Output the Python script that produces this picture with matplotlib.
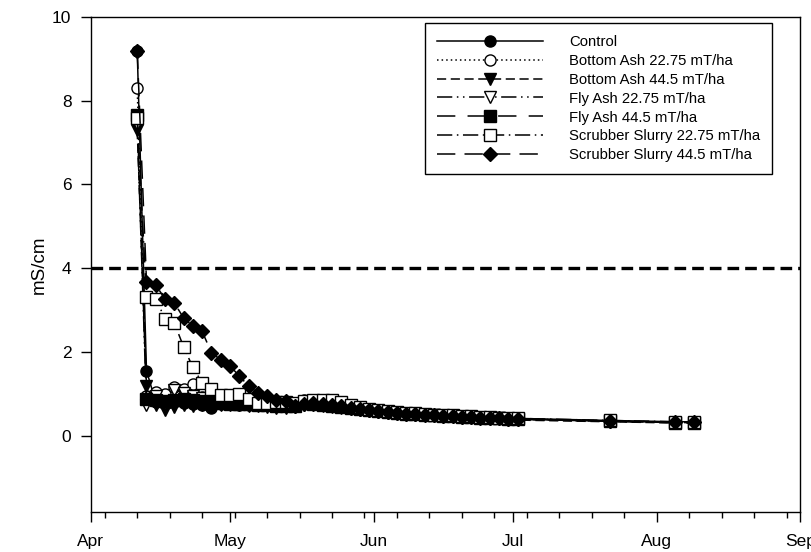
import matplotlib
matplotlib.use("Agg")
import matplotlib.pyplot as plt
import matplotlib.dates as mdates
import numpy as np
import datetime as dt

plt.rcParams['font.family'] = ['Liberation Sans', 'DejaVu Sans']

# sampling dates (year is arbitrary)
dates = ["2010-04-11", "2010-04-13", "2010-04-15", "2010-04-17", "2010-04-19",
         "2010-04-21", "2010-04-23", "2010-04-25", "2010-04-27", "2010-04-29",
         "2010-05-01", "2010-05-03", "2010-05-05", "2010-05-07", "2010-05-09",
         "2010-05-11", "2010-05-13", "2010-05-15", "2010-05-17", "2010-05-19",
         "2010-05-21", "2010-05-23", "2010-05-25", "2010-05-27", "2010-05-29",
         "2010-05-31", "2010-06-02", "2010-06-04", "2010-06-06", "2010-06-08",
         "2010-06-10", "2010-06-12", "2010-06-14", "2010-06-16", "2010-06-18",
         "2010-06-20", "2010-06-22", "2010-06-24", "2010-06-26", "2010-06-28",
         "2010-06-30", "2010-07-02", "2010-07-22", "2010-08-05", "2010-08-09"]

control = [9.2, 1.55, 0.80, 0.78, 0.80, 0.78, 0.75, 0.74, 0.66, 0.75,
           0.76, 0.74, 0.72, 0.72, 0.72, 0.70, 0.70, 0.72, 0.85, 0.80,
           0.76, 0.74, 0.72, 0.70, 0.66, 0.62, 0.60, 0.58, 0.56, 0.55,
           0.53, 0.52, 0.50, 0.49, 0.48, 0.47, 0.46, 0.45, 0.44, 0.43,
           0.42, 0.41, 0.36, 0.33, 0.33]
bottom_ash_22 = [8.3, 0.95, 1.05, 1.00, 1.15, 1.12, 1.22, 0.92, 0.90, 0.88,
                 0.86, 0.85, 0.82, 0.80, 0.80, 0.78, 0.76, 0.75, 0.80, 0.78,
                 0.75, 0.72, 0.70, 0.68, 0.64, 0.61, 0.59, 0.57, 0.55, 0.54,
                 0.52, 0.51, 0.49, 0.48, 0.47, 0.46, 0.45, 0.44, 0.43, 0.42,
                 0.41, 0.40, 0.35, 0.32, 0.32]
bottom_ash_44 = [7.3, 1.18, 0.72, 0.62, 0.68, 0.72, 0.70, 0.72, 0.70, 0.72,
                 0.74, 0.72, 0.70, 0.70, 0.68, 0.66, 0.66, 0.68, 0.74, 0.72,
                 0.70, 0.68, 0.66, 0.64, 0.60, 0.58, 0.56, 0.54, 0.52, 0.50,
                 0.49, 0.48, 0.46, 0.45, 0.44, 0.43, 0.42, 0.41, 0.40, 0.39,
                 0.38, 0.37, 0.33, 0.30, 0.30]
fly_ash_22 = [7.45, 0.72, 0.95, 0.80, 1.10, 1.02, 0.95, 0.90, 0.86, 0.84,
              0.82, 0.80, 0.78, 0.76, 0.75, 0.74, 0.72, 0.72, 0.76, 0.74,
              0.72, 0.70, 0.68, 0.65, 0.62, 0.59, 0.57, 0.55, 0.53, 0.52,
              0.50, 0.49, 0.48, 0.47, 0.46, 0.45, 0.44, 0.43, 0.42, 0.41,
              0.40, 0.39, 0.34, 0.31, 0.31]
fly_ash_44 = [7.65, 0.88, 0.85, 0.82, 0.86, 0.88, 0.85, 0.82, 0.80, 0.78,
              0.76, 0.76, 0.75, 0.74, 0.72, 0.70, 0.70, 0.70, 0.78, 0.76,
              0.74, 0.71, 0.69, 0.66, 0.63, 0.60, 0.58, 0.56, 0.54, 0.52,
              0.51, 0.50, 0.48, 0.47, 0.46, 0.45, 0.44, 0.43, 0.42, 0.41,
              0.40, 0.39, 0.34, 0.31, 0.31]
scrubber_22 = [7.6, 3.30, 3.27, 2.79, 2.69, 2.12, 1.63, 1.26, 1.12, 0.98,
               0.98, 1.00, 0.88, 0.78, 0.78, 0.80, 0.80, 0.78, 0.82, 0.86,
               0.84, 0.84, 0.80, 0.74, 0.68, 0.63, 0.60, 0.58, 0.56, 0.54,
               0.53, 0.52, 0.50, 0.49, 0.48, 0.47, 0.46, 0.45, 0.44, 0.43,
               0.42, 0.41, 0.36, 0.33, 0.33]
scrubber_44 = [9.2, 3.68, 3.60, 3.26, 3.17, 2.81, 2.62, 2.49, 1.98, 1.81,
               1.67, 1.42, 1.19, 1.02, 0.94, 0.86, 0.82, 0.70, 0.76, 0.78,
               0.76, 0.73, 0.70, 0.67, 0.63, 0.60, 0.58, 0.56, 0.54, 0.52,
               0.51, 0.50, 0.48, 0.47, 0.46, 0.45, 0.44, 0.43, 0.42, 0.41,
               0.40, 0.39, 0.34, 0.32, 0.32]

labels = ["Control", "Bottom Ash 22.75 mT/ha", "Bottom Ash 44.5 mT/ha",
          "Fly Ash 22.75 mT/ha", "Fly Ash 44.5 mT/ha",
          "Scrubber Slurry 22.75 mT/ha", "Scrubber Slurry 44.5 mT/ha"]
threshold = 4

x = [dt.datetime.strptime(d, "%Y-%m-%d") for d in dates]
series = [control, bottom_ash_22, bottom_ash_44, fly_ash_22, fly_ash_44,
          scrubber_22, scrubber_44]
styles = [
    ('o', 'black', '-'),
    ('o', 'white', (0, (1, 2))),
    ('v', 'black', (0, (6, 3))),
    ('v', 'white', (0, (10, 3, 1, 3, 1, 3))),
    ('s', 'black', (0, (12, 8))),
    ('s', 'white', (0, (10, 3, 1, 3))),
    ('D', 'black', (0, (12, 6))),
]

fig = plt.figure(figsize=(8.11, 5.52), dpi=100)
ax = fig.add_axes([0.112, 0.073, 0.875, 0.896])

for y, lab, (m, fc, ls) in zip(series, labels, styles):
    ax.plot(x, y, linestyle=ls, color='black', linewidth=1.1, marker=m,
            markersize=8 if m != 'D' else 7, markerfacecolor=fc,
            markeredgecolor='black', markeredgewidth=1.0, label=lab)

ax.axhline(threshold, color='black', linewidth=2.4, linestyle=(0, (3.5, 1.8)))

ax.set_xlim(dt.datetime(2010, 4, 1), dt.datetime(2010, 9, 1))
ax.set_ylim(-1.82, 10)
ax.set_yticks([0, 2, 4, 6, 8, 10])
ax.xaxis.set_major_locator(mdates.MonthLocator())
ax.xaxis.set_major_formatter(mdates.DateFormatter('%b'))
ax.xaxis.set_minor_locator(mdates.WeekdayLocator(byweekday=mdates.SU))
ax.tick_params(axis='both', which='major', direction='out', length=7,
               width=1, labelsize=12.5, pad=7)
ax.tick_params(axis='x', which='minor', direction='out', length=4, width=1)
ax.tick_params(axis='x', which='major', pad=9)
ax.set_ylabel("mS/cm", fontsize=13.5, labelpad=3)
for s in ax.spines.values():
    s.set_linewidth(1.0)

leg = ax.legend(loc='upper right', bbox_to_anchor=(0.9605, 0.988),
                borderaxespad=0, fontsize=10.7, handlelength=7.1,
                handletextpad=1.8, labelspacing=0.33, fancybox=False,
                edgecolor='black', framealpha=1, borderpad=0.8)
leg.get_frame().set_linewidth(1.0)

fig.savefig("out.png", dpi=100)
